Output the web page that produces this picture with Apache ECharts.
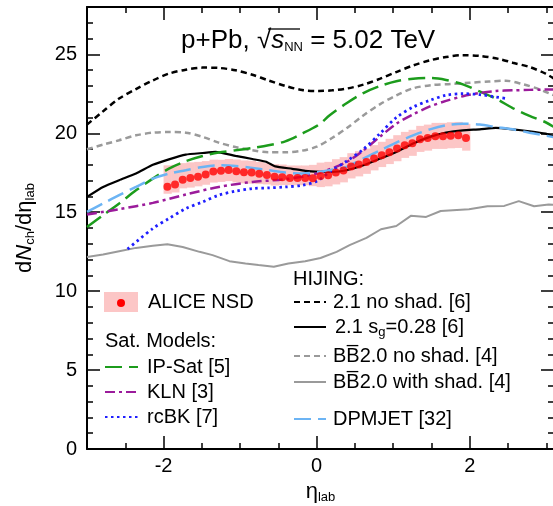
<!DOCTYPE html>
<html><head><meta charset="utf-8">
<script src="https://cdn.jsdelivr.net/npm/echarts@6/dist/echarts.min.js"></script>
<style>html,body{margin:0;padding:0;background:#fff}#c{width:553px;height:506px}</style>
</head><body><div id="c"></div>
<script>
// ---------------- data ----------------
const aliceEta = [-1.95,-1.85,-1.75,-1.65,-1.55,-1.45,-1.35,-1.25,-1.15,-1.05,-0.95,-0.85,-0.75,-0.65,-0.55,-0.45,-0.35,-0.25,-0.15,-0.05,
                  0.05,0.15,0.25,0.35,0.45,0.55,0.65,0.75,0.85,0.95,1.05,1.15,1.25,1.35,1.45,1.55,1.65,1.75,1.85,1.95];
const aliceVal = [16.62,16.75,17.06,17.16,17.24,17.39,17.58,17.62,17.67,17.59,17.53,17.51,17.43,17.36,17.24,17.22,17.16,17.16,17.16,17.15,
                  17.29,17.34,17.51,17.64,17.89,18.02,18.18,18.40,18.61,18.80,19.03,19.24,19.37,19.62,19.70,19.81,19.81,19.85,19.87,19.70];
const aliceErrUp = [1.35,1.25,1.05,1.0,0.95,0.85,0.75,0.7,0.7,0.75,0.75,0.75,0.75,0.75,0.8,0.8,0.8,0.8,0.8,0.85,
                    0.85,0.85,0.85,0.85,0.85,0.85,0.85,0.85,0.85,0.85,0.85,0.85,0.85,0.85,0.85,0.85,0.85,0.85,0.85,0.9];
const aliceErrDn = [0.45,0.5,0.55,0.6,0.6,0.65,0.7,0.7,0.7,0.7,0.7,0.7,0.65,0.6,0.55,0.5,0.45,0.45,0.45,0.5,
                    0.7,0.7,0.75,0.75,0.75,0.75,0.75,0.75,0.75,0.75,0.8,0.8,0.8,0.8,0.8,0.8,0.8,0.8,0.8,0.8];

const hijingNoShad = [[-3.0,20.55],[-2.8,21.35],[-2.58,22.2],[-2.36,22.8],[-2.14,23.35],[-1.93,23.78],[-1.71,24.03],[-1.49,24.16],[-1.28,24.14],
  [-1.06,23.99],[-0.84,23.71],[-0.63,23.35],[-0.41,23.0],[-0.19,22.74],[0.03,22.68],[0.2,22.72],[0.39,22.83],[0.61,23.08],[0.83,23.46],
  [1.04,23.88],[1.26,24.3],[1.48,24.62],[1.69,24.83],[1.91,24.95],[2.13,24.9],[2.39,24.7],[2.56,24.47],[2.78,24.2],[2.99,23.78],[3.1,23.46]];
const hijingSg = [[-3.0,15.97],[-2.79,16.6],[-2.58,17.03],[-2.36,17.45],[-2.14,18.0],[-1.93,18.35],[-1.71,18.65],[-1.49,18.75],[-1.32,18.82],
  [-1.06,18.57],[-0.84,18.37],[-0.66,18.2],[-0.54,17.9],[-0.32,17.75],[-0.15,17.62],[0.05,17.56],[0.2,17.55],[0.39,17.66],[0.61,17.97],
  [0.83,18.4],[1.04,18.82],[1.26,19.35],[1.48,19.77],[1.69,20.04],[1.91,20.19],[2.13,20.25],[2.34,20.34],[2.56,20.25],[2.78,20.13],[2.99,19.98],[3.1,19.8]];
const bbNoShad = [[-3.0,18.99],[-2.79,19.28],[-2.58,19.56],[-2.36,19.87],[-2.14,20.04],[-1.93,20.08],[-1.71,20.04],[-1.49,19.77],[-1.28,19.41],
  [-1.06,19.13],[-0.84,18.92],[-0.63,18.8],[-0.41,18.8],[-0.19,18.9],[0.0,19.15],[0.2,19.7],[0.4,20.35],[0.6,21.1],[0.83,21.85],[1.04,22.4],
  [1.26,22.85],[1.5,23.05],[1.75,23.12],[2.0,23.2],[2.25,23.28],[2.47,23.33],[2.7,23.1],[2.9,22.8],[3.1,22.4]];
const bbShad = [[-3.0,12.17],[-2.79,12.32],[-2.58,12.53],[-2.36,12.74],[-2.14,12.87],[-1.95,12.97],[-1.75,12.8],[-1.53,12.49],[-1.36,12.28],
  [-1.14,11.9],[-0.93,11.75],[-0.76,11.65],[-0.56,11.54],[-0.37,11.75],[-0.15,11.9],[0.05,12.1],[0.26,12.49],[0.43,12.91],[0.65,13.37],
  [0.84,13.92],[1.04,14.13],[1.23,14.77],[1.43,14.7],[1.62,15.08],[1.99,15.19],[2.23,15.38],[2.45,15.4],[2.64,15.7],[2.84,15.38],[3.03,15.49],[3.1,15.47]];
const ipSat = [[-3.0,14.07],[-2.79,14.81],[-2.58,15.55],[-2.36,16.39],[-2.14,17.13],[-1.93,17.76],[-1.71,18.23],[-1.49,18.56],[-1.28,18.78],
  [-1.06,18.92],[-0.84,19.07],[-0.63,19.24],[-0.41,19.49],[-0.19,19.98],[0.03,20.55],[0.17,21.14],[0.39,21.9],[0.61,22.55],[0.83,23.0],
  [1.04,23.3],[1.26,23.46],[1.5,23.5],[1.69,23.38],[1.91,23.1],[2.13,22.65],[2.34,22.2],[2.56,21.6],[2.78,21.1],[2.99,20.7],[3.1,20.4]];
const kln = [[-3.0,14.85],[-2.58,15.19],[-2.14,15.59],[-1.71,16.12],[-1.28,16.6],[-0.84,16.92],[-0.41,17.09],[0.0,17.45],[0.39,18.18],
  [0.61,18.92],[0.83,19.8],[1.04,20.6],[1.26,21.2],[1.48,21.7],[1.69,22.05],[1.91,22.35],[2.13,22.55],[2.34,22.68],[2.56,22.72],[2.78,22.75],[3.1,22.78]];
const rcBK = [[-2.47,12.66],[-2.14,13.97],[-1.93,14.6],[-1.71,15.23],[-1.49,15.65],[-1.28,16.08],[-1.06,16.33],[-0.84,16.5],[-0.63,16.54],
  [-0.41,16.6],[-0.19,16.71],[0.0,16.96],[0.17,17.55],[0.39,18.23],[0.61,18.99],[0.83,20.0],[1.04,21.0],[1.26,21.66],[1.48,22.09],
  [1.69,22.41],[1.91,22.51],[2.13,22.45],[2.34,22.3],[2.5,22.18]];
const dpmjet = [[-3.0,15.02],[-2.79,15.55],[-2.58,16.08],[-2.36,16.6],[-2.14,17.13],[-1.93,17.45],[-1.71,17.66],[-1.49,17.87],[-1.28,17.97],
  [-1.06,17.93],[-0.84,17.8],[-0.63,17.66],[-0.41,17.51],[-0.19,17.45],[0.03,17.55],[0.17,17.66],[0.39,17.87],[0.61,18.4],[0.83,18.92],
  [1.04,19.41],[1.26,19.87],[1.48,20.25],[1.69,20.51],[1.91,20.61],[2.13,20.55],[2.34,20.4],[2.56,20.25],[2.78,20.04],[3.1,19.75]];

const xMajorTicks = [-2, 0, 2];
const yMajorTicks = [0, 5, 10, 15, 20, 25];

// ---------------- chart ----------------
const FONT = '"Liberation Sans", Arial, Helvetica, sans-serif';
const chart = echarts.init(document.getElementById('c'), null, {renderer: 'canvas'});

const bandData = aliceEta.map((e, i) => [e, aliceVal[i] - aliceErrDn[i], aliceVal[i] + aliceErrUp[i]]);
const pointData = aliceEta.map((e, i) => [e, aliceVal[i]]);

function lineSeries(name, data, color, type, width, smooth, z) {
  return {name, type: 'line', data, symbol: 'none', showSymbol: false, smooth, silent: true, z: z || 3,
    lineStyle: {color, type, width, cap: 'butt'}, itemStyle: {color}};
}

const xBase = {type: 'value', min: -3, max: 3.1, gridIndex: 0, splitLine: {show: false}};
const yBase = {type: 'value', min: 0, max: 28, gridIndex: 0, splitLine: {show: false}};
const lineBlack = {show: true, onZero: false, lineStyle: {color: '#000', width: 2}};
const noLine = {show: false, onZero: false};

const sub = {fontSize: 13, fontFamily: FONT, color: '#000', padding: [11, 0, 0, 0]};

const option = {
  animation: false,
  backgroundColor: '#fff',
  grid: {left: 87, top: 7, right: -1, bottom: 57, containLabel: false, outerBoundsMode: 'none'},
  title: {
    text: '{n|p+Pb, √}{i|s}{s|NN}{n| = 5.02 TeV}',
    left: 181, top: 28, padding: 0,
    textStyle: {fontWeight: 'normal', rich: {
      n: {fontSize: 26, fontFamily: FONT, fontWeight: 'normal', color: '#000'},
      i: {fontSize: 26, fontFamily: FONT, fontWeight: 'normal', fontStyle: 'italic', color: '#000'},
      s: {fontSize: 13, fontFamily: FONT, fontWeight: 'normal', color: '#000', padding: [13, 0, 0, 0]}
    }}
  },
  xAxis: [
    Object.assign({}, xBase, {position: 'bottom', interval: 0.5, axisLine: lineBlack,
      axisTick: {inside: true, length: 6, lineStyle: {color: '#000', width: 1.5}},
      axisLabel: {customValues: xMajorTicks, fontSize: 20, fontFamily: FONT, color: '#000', margin: 7},
      name: '{n|η}{s|lab}', nameLocation: 'middle', nameGap: 23,
      nameTextStyle: {rich: {n: {fontSize: 22, fontFamily: FONT, color: '#000'}, s: sub}}}),
    Object.assign({}, xBase, {position: 'bottom', axisLine: noLine,
      axisTick: {inside: true, length: 13, customValues: xMajorTicks, lineStyle: {color: '#000', width: 1.5}},
      axisLabel: {show: false}}),
    Object.assign({}, xBase, {position: 'top', interval: 0.5, axisLine: lineBlack,
      axisTick: {inside: true, length: 6, lineStyle: {color: '#000', width: 1.5}}, axisLabel: {show: false}}),
    Object.assign({}, xBase, {position: 'top', axisLine: noLine,
      axisTick: {inside: true, length: 13, customValues: xMajorTicks, lineStyle: {color: '#000', width: 1.5}},
      axisLabel: {show: false}})
  ],
  yAxis: [
    Object.assign({}, yBase, {position: 'left', interval: 1, axisLine: lineBlack,
      axisTick: {inside: true, length: 6, lineStyle: {color: '#000', width: 1.5}},
      axisLabel: {customValues: yMajorTicks, fontSize: 20, fontFamily: FONT, color: '#000', margin: 10},
      name: '{n|d}{i|N}{s|ch}{n|/dη}{s|lab}', nameLocation: 'middle', nameRotate: 90, nameGap: 50,
      nameTextStyle: {rich: {
        n: {fontSize: 22, fontFamily: FONT, color: '#000'},
        i: {fontSize: 22, fontFamily: FONT, fontStyle: 'italic', color: '#000'},
        s: sub}}}),
    Object.assign({}, yBase, {position: 'left', interval: 5, axisLine: noLine,
      axisTick: {inside: true, length: 13, lineStyle: {color: '#000', width: 1.5}}, axisLabel: {show: false}}),
    Object.assign({}, yBase, {position: 'right', interval: 1, axisLine: lineBlack,
      axisTick: {inside: true, length: 6, lineStyle: {color: '#000', width: 1.5}}, axisLabel: {show: false}}),
    Object.assign({}, yBase, {position: 'right', interval: 5, axisLine: noLine,
      axisTick: {inside: true, length: 13, lineStyle: {color: '#000', width: 1.5}}, axisLabel: {show: false}})
  ],
  legend: [],
  graphic: [],
  series: [
    {name: 'ALICE NSD', type: 'custom', data: bandData, z: 1, silent: true,
      itemStyle: {color: '#fcc6c6'},
      encode: {x: 0, y: [1, 2]},
      renderItem: function (params, api) {
        const x = api.value(0), lo = api.value(1), hi = api.value(2);
        const p1 = api.coord([x - 0.05, hi]);
        const p2 = api.coord([x + 0.05, lo]);
        return {type: 'rect', shape: {x: p1[0], y: p1[1], width: p2[0] - p1[0] + 0.6, height: p2[1] - p1[1]},
          style: {fill: '#fcc6c6'}};
      }},
    lineSeries('BB2.0 with shad', bbShad, '#9a9a9a', 'solid', 2, false),
    lineSeries('BB2.0 no shad', bbNoShad, '#9a9a9a', [6, 4], 2.5, 0.3),
    lineSeries('HIJING 2.1 no shad', hijingNoShad, '#000000', [6, 4], 2.5, 0.3),
    lineSeries('HIJING 2.1 sg', hijingSg, '#000000', 'solid', 2.2, 0.15),
    lineSeries('IP-Sat', ipSat, '#1c9c1c', [17, 7], 2.5, 0.3),
    lineSeries('KLN', kln, '#9b1b9b', [10, 4, 3, 4], 2.5, 0.3),
    lineSeries('rcBK', rcBK, '#1f1fff', [2.5, 3.5], 2.8, 0.3),
    lineSeries('DPMJET', dpmjet, '#6cb4f4', [17, 7], 2.5, 0.3),
    {name: 'ALICE NSD', type: 'scatter', data: pointData, symbol: 'circle', symbolSize: 8, z: 10, silent: true,
      itemStyle: {color: '#ff0000'}}
  ]
};

// legends: one component per entry, placed like the reference
function leg(name, left, cy, w, gap, extra) {
  return Object.assign({
    data: [name], left, top: cy - 11, padding: 0, itemWidth: w, itemHeight: 14,
    selectedMode: false, itemStyle: {opacity: 0},
    textStyle: {fontSize: 20, fontFamily: FONT, color: '#000', padding: [0, 0, 0, gap]}
  }, extra || {});
}
const legendText = {
  'ALICE NSD': 'ALICE NSD', 'IP-Sat': 'IP-Sat [5]', 'KLN': 'KLN [3]', 'rcBK': 'rcBK [7]',
  'HIJING 2.1 no shad': '2.1 no shad. [6]', 'HIJING 2.1 sg': '2.1 s{g|g}=0.28 [6]',
  'BB2.0 no shad': 'BB\u03052.0 no shad. [4]', 'BB2.0 with shad': 'BB\u03052.0 with shad. [4]', 'DPMJET': 'DPMJET [32]'
};
const fmt = n => legendText[n];
const richG = {g: {fontSize: 13, fontFamily: FONT, color: '#000', padding: [10, 0, 0, 0]}};
option.legend = [
  leg('ALICE NSD', 104, 303, 34, 5, {icon: 'rect', itemHeight: 20, itemStyle: {color: '#fcc6c6', opacity: 1}, formatter: fmt}),
  leg('IP-Sat', 104, 368, 33, 4, {formatter: fmt}),
  leg('KLN', 104, 393, 33, 4, {formatter: fmt}),
  leg('rcBK', 104, 418, 33, 4, {formatter: fmt}),
  leg('HIJING 2.1 no shad', 293, 303, 32, 2, {formatter: fmt}),
  leg('HIJING 2.1 sg', 293, 328, 32, 4, {formatter: fmt}),
  leg('BB2.0 no shad', 293, 357, 32, 2, {formatter: fmt}),
  leg('BB2.0 with shad', 293, 383, 32, 2, {formatter: fmt}),
  leg('DPMJET', 293, 420, 32, 2, {formatter: fmt})
];
option.legend[5].textStyle.rich = richG;
option.graphic = [
  {type: 'circle', shape: {cx: 121, cy: 303, r: 4}, style: {fill: '#ff0000'}, z: 100},
  {type: 'text', left: 105, top: 331, style: {text: 'Sat. Models:', fontSize: 20, fontFamily: FONT, fill: '#000'}},
  {type: 'text', left: 293, top: 269, style: {text: 'HIJING:', fontSize: 20, fontFamily: FONT, fill: '#000'}},
  {type: 'line', shape: {x1: 268, y1: 29, x2: 300, y2: 29}, style: {stroke: '#000', lineWidth: 1.3}}
];

chart.setOption(option);
</script>
</body></html>
